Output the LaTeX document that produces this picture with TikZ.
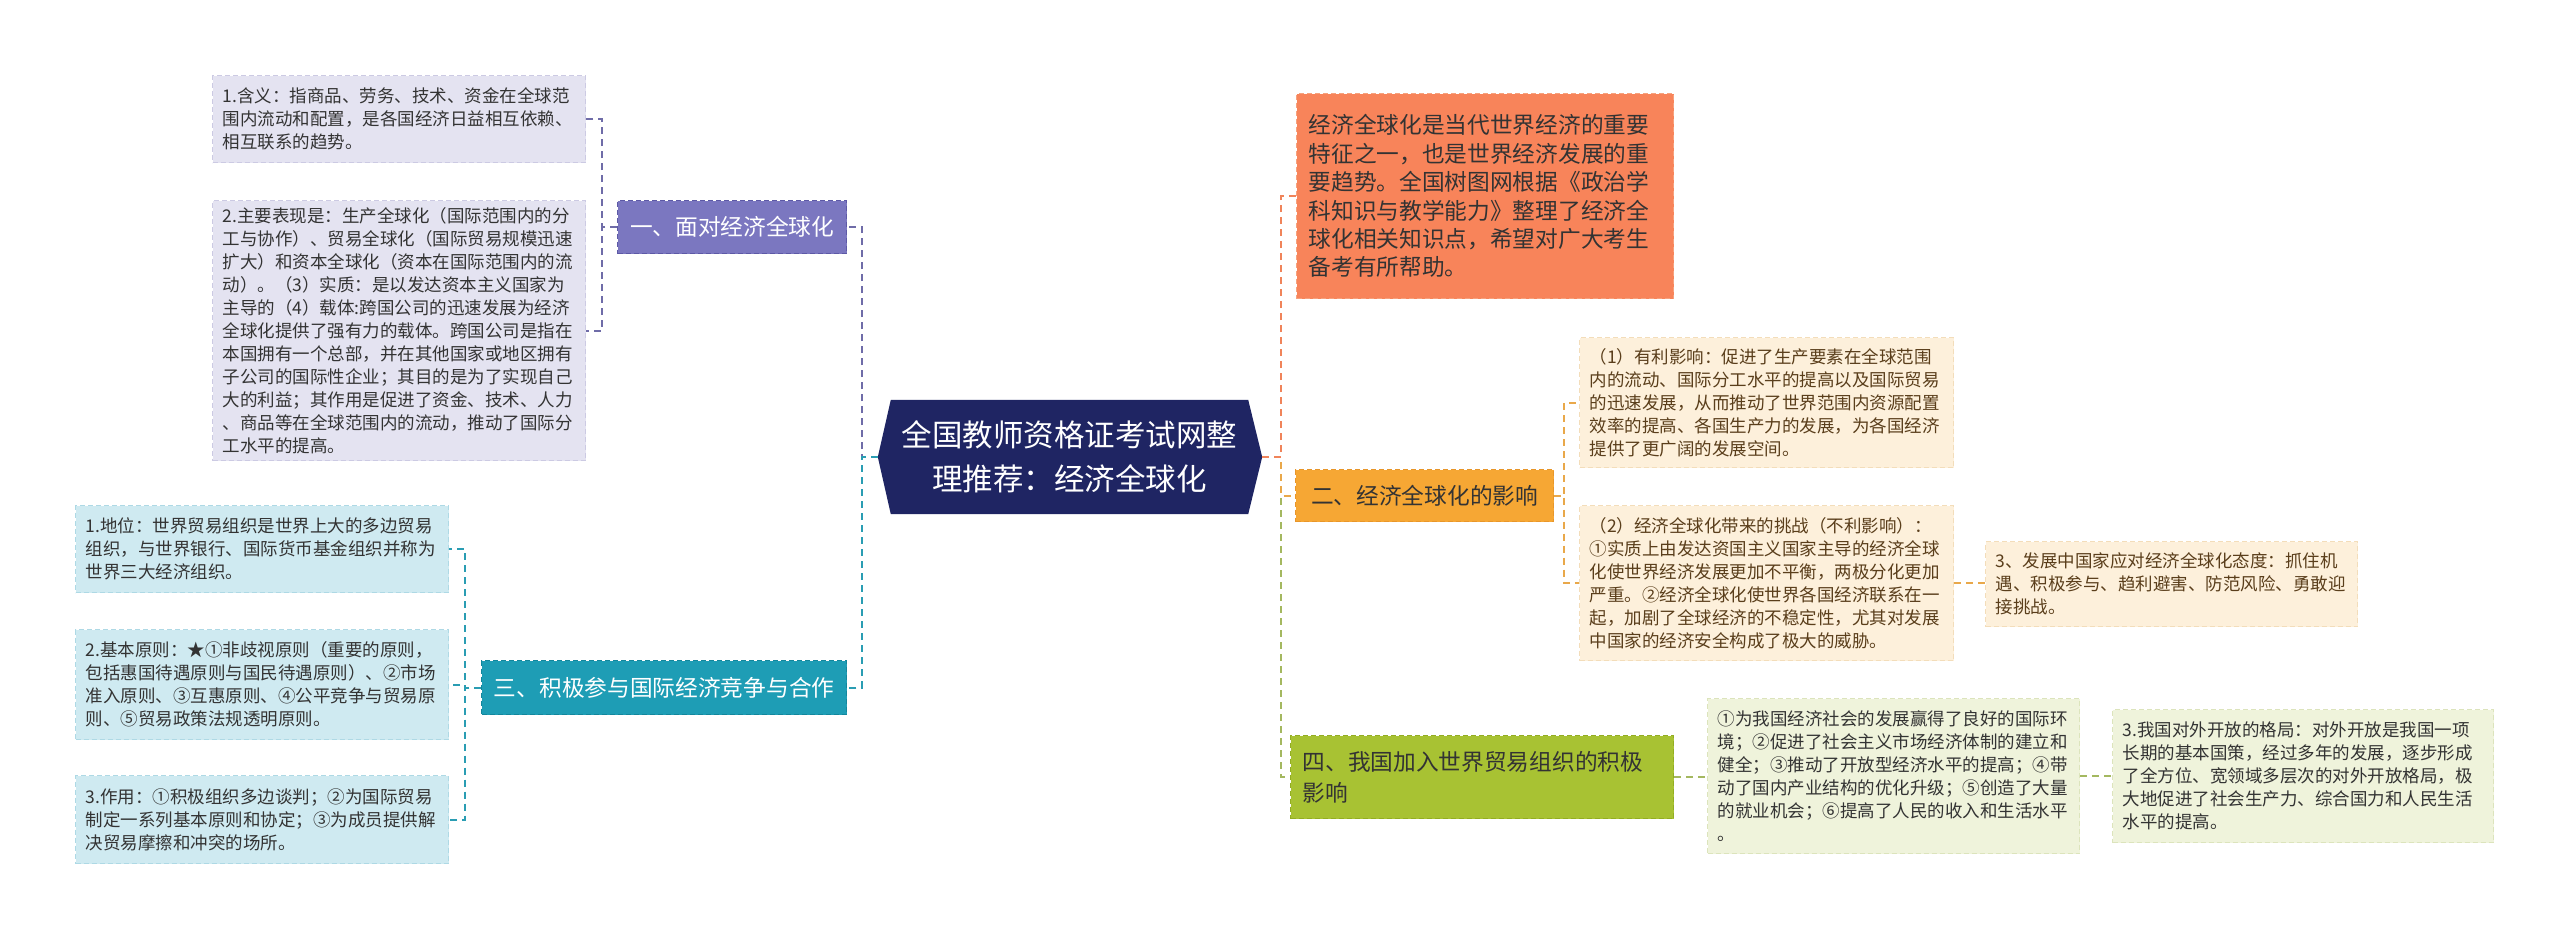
\documentclass[tikz,border=0pt]{standalone}
\usepackage{fontspec}
\setmainfont{Noto Sans CJK SC}
\usetikzlibrary{calc}
\pgfdeclarelayer{bg}
\pgfsetlayers{bg,main}
\definecolor{cNavy}{HTML}{1F2563}
\definecolor{pFill}{HTML}{7B77C0}
\definecolor{pDraw}{HTML}{5D59A6}
\definecolor{pLf}{HTML}{E4E3F1}
\definecolor{pLd}{HTML}{CCCAE3}
\definecolor{pCon}{HTML}{6F6CA8}
\definecolor{tFill}{HTML}{1E9DB5}
\definecolor{tDraw}{HTML}{13869C}
\definecolor{tLf}{HTML}{CFEAF1}
\definecolor{tLd}{HTML}{AED9E5}
\definecolor{tCon}{HTML}{2A9DB3}
\definecolor{oFill}{HTML}{F8845A}
\definecolor{oDraw}{HTML}{F6A27E}
\definecolor{oCon}{HTML}{F0845A}
\definecolor{gFill}{HTML}{F6A734}
\definecolor{gDraw}{HTML}{E8962A}
\definecolor{gLf}{HTML}{FDF0DB}
\definecolor{gLd}{HTML}{F3DDBA}
\definecolor{gCon}{HTML}{E9A84A}
\definecolor{gTxt}{HTML}{5A3E1B}
\definecolor{vFill}{HTML}{A8C233}
\definecolor{vDraw}{HTML}{93AD22}
\definecolor{vLf}{HTML}{EFF3DB}
\definecolor{vLd}{HTML}{DCE4BC}
\definecolor{vCon}{HTML}{A4B860}
\definecolor{cTxt}{HTML}{333333}
\newcommand\leaffont{\fontsize{17.5}{23}\selectfont}
\newcommand\branchfont{\fontsize{22.7}{28.4}\selectfont}
\newcommand\bigfont{\fontsize{30.5}{44}\selectfont}
\begin{document}
\begin{tikzpicture}[x=1pt,y=-1pt,
  conn/.style={line width=2pt, dash pattern=on 7pt off 5pt},
  box/.style={draw, line width=1.3pt, dash pattern=on 5pt off 3pt, anchor=north west, align=left, inner xsep=10pt, inner ysep=2pt},
  leafP/.style={box, fill=pLf, draw=pLd, text=cTxt, font=\leaffont},
  leafT/.style={box, fill=tLf, draw=tLd, text=cTxt, font=\leaffont},
  leafG/.style={box, fill=gLf, draw=gLd, text=gTxt, font=\leaffont},
  leafV/.style={box, fill=vLf, draw=vLd, text=cTxt, font=\leaffont},
  branch/.style={box, font=\branchfont, inner xsep=12pt}
]
\begin{pgfonlayer}{bg}
\fill[white] (0,0) rectangle (2560,939);
\end{pgfonlayer}
\useasboundingbox (0,0) rectangle (2560,939);

% centre
\node[text=white, align=center, font=\bigfont, minimum width=357pt, minimum height=114pt, inner sep=0pt] (c) at (1069.5,457) {全国教师资格证考试网整\\理推荐：经济全球化};
\coordinate (cL) at ($(c.west)+(-13,0)$);
\coordinate (cR) at ($(c.east)+(14,0)$);
\begin{pgfonlayer}{bg}
\fill[cNavy] (c.north west) -- (c.north east) -- (cR) -- (c.south east) -- (c.south west) -- (cL) -- cycle;
\end{pgfonlayer}

% left branches
\node[branch, fill=pFill, draw=pDraw, text=white, minimum width=229pt, minimum height=53pt] (b1) at (617,200) {一、面对经济全球化};
\node[branch, fill=tFill, draw=tDraw, text=white, minimum width=365pt, minimum height=54pt] (b3) at (481,660) {三、积极参与国际经济竞争与合作};

% left leaves
\node[leafP, text width=353pt, minimum height=87pt] (l1a) at (212,75) {1.含义：指商品、劳务、技术、资金在全球范\\围内流动和配置，是各国经济日益相互依赖、\\相互联系的趋势。};
\node[leafP, text width=353pt, minimum height=260pt] (l1b) at (212,200) {2.主要表现是：生产全球化（国际范围内的分\\工与协作）、贸易全球化（国际贸易规模迅速\\扩大）和资本全球化（资本在国际范围内的流\\动）。（3）实质：是以发达资本主义国家为\\主导的（4）载体:跨国公司的迅速发展为经济\\全球化提供了强有力的载体。跨国公司是指在\\本国拥有一个总部，并在其他国家或地区拥有\\子公司的国际性企业；其目的是为了实现自己\\大的利益；其作用是促进了资金、技术、人力\\、商品等在全球范围内的流动，推动了国际分\\工水平的提高。};
\node[leafT, text width=353pt, minimum height=87pt] (l3a) at (75,505) {1.地位：世界贸易组织是世界上大的多边贸易\\组织，与世界银行、国际货币基金组织并称为\\世界三大经济组织。};
\node[leafT, text width=353pt, minimum height=110pt] (l3b) at (75,629) {2.基本原则：★①非歧视原则（重要的原则，\\包括惠国待遇原则与国民待遇原则）、②市场\\准入原则、③互惠原则、④公平竞争与贸易原\\则、⑤贸易政策法规透明原则。};
\node[leafT, text width=353pt, minimum height=88pt] (l3c) at (75,775) {3.作用：①积极组织多边谈判；②为国际贸易\\制定一系列基本原则和协定；③为成员提供解\\决贸易摩擦和冲突的场所。};

% right side
\node[branch, fill=oFill, draw=oDraw, text=cTxt, text width=353pt, minimum height=205pt] (o) at (1296,93) {经济全球化是当代世界经济的重要\\特征之一，也是世界经济发展的重\\要趋势。全国树图网根据《政治学\\科知识与教学能力》整理了经济全\\球化相关知识点，希望对广大考生\\备考有所帮助。};
\node[branch, fill=gFill, draw=gDraw, text=cTxt, minimum width=258pt, minimum height=52pt] (b2) at (1295,469) {二、经济全球化的影响};
\node[branch, fill=vFill, draw=vDraw, text=cTxt, text width=359pt, minimum height=83pt, font=\fontsize{22.7}{31}\selectfont] (b4) at (1290,735) {四、我国加入世界贸易组织的积极\\影响};

\node[leafG, text width=354pt, minimum height=130pt] (l2a) at (1579,337) {（1）有利影响：促进了生产要素在全球范围\\内的流动、国际分工水平的提高以及国际贸易\\的迅速发展，从而推动了世界范围内资源配置\\效率的提高、各国生产力的发展，为各国经济\\提供了更广阔的发展空间。};
\node[leafG, text width=354pt, minimum height=155pt] (l2b) at (1579,505) {（2）经济全球化带来的挑战（不利影响）：\\①实质上由发达资国主义国家主导的经济全球\\化使世界经济发展更加不平衡，两极分化更加\\严重。②经济全球化使世界各国经济联系在一\\起，加剧了全球经济的不稳定性，尤其对发展\\中国家的经济安全构成了极大的威胁。};
\node[leafG, text width=352pt, minimum height=85pt] (l2c) at (1985,541) {3、发展中国家应对经济全球化态度：抓住机\\遇、积极参与、趋利避害、防范风险、勇敢迎\\接挑战。};
\node[leafV, text width=352pt, minimum height=155pt] (l4a) at (1707,698) {①为我国经济社会的发展赢得了良好的国际环\\境；②促进了社会主义市场经济体制的建立和\\健全；③推动了开放型经济水平的提高；④带\\动了国内产业结构的优化升级；⑤创造了大量\\的就业机会；⑥提高了人民的收入和生活水平\\。};
\node[leafV, text width=361pt, minimum height=133pt] (l4b) at (2112,709) {3.我国对外开放的格局：对外开放是我国一项\\长期的基本国策，经过多年的发展，逐步形成\\了全方位、宽领域多层次的对外开放格局，极\\大地促进了社会生产力、综合国力和人民生活\\水平的提高。};

% connectors left
\draw[conn, pCon] (cL) -- ++(-16,0) |- (b1.east);
\draw[conn, tCon] (cL) -- ++(-16,0) |- (b3.east);
\draw[conn, pCon] (b1.west) -- ++(-15,0) |- (l1a.east);
\draw[conn, pCon] (b1.west) -- ++(-15,0) |- (l1b.east);
\draw[conn, tCon] (b3.west) -- ++(-16,0) |- (l3a.east);
\draw[conn, tCon] (b3.west) -- ++(-16,0) |- (l3b.east);
\draw[conn, tCon] (b3.west) -- ++(-16,0) |- (l3c.east);

% connectors right
\draw[conn, vCon] (cR) -- ++(19,0) |- (b4.west);
\draw[conn, gCon] (cR) -- ++(19,0) |- (b2.west);
\draw[conn, oCon] (cR) -- ++(19,0) |- (o.west);
\draw[conn, gCon] (b2.east) -- ++(10,0) |- (l2a.west);
\draw[conn, gCon] (b2.east) -- ++(10,0) |- (l2b.west);
\draw[conn, gCon] (l2b.east) -- (l2b.east -| l2c.west);
\draw[conn, vCon] (b4.east) -- (b4.east -| l4a.west);
\draw[conn, vCon] (l4a.east) -- (l4a.east -| l4b.west);
\end{tikzpicture}
\end{document}
